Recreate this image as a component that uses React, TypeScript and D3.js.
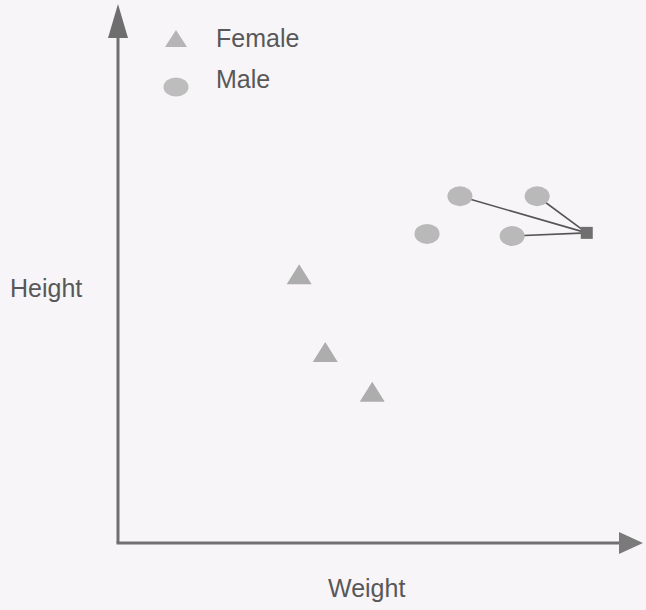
import React from "react";
import * as d3 from "d3";

const femaleX = [34.7, 39.7, 48.7];
const femaleY = [51.4, 36.5, 28.9];
const maleX = [65.5, 80.3, 59.2, 75.5];
const maleY = [66.3, 66.3, 59.1, 58.7];
const queryX = [89.8];
const queryY = [59.3];
const neighbourIdx = [0, 1, 3];
const legendLabels = ["Female", "Male"];
const axisLabels = ["Weight", "Height"];

function triPath(cx: number, cy: number, w: number, h: number) {
  const p = d3.path();
  p.moveTo(cx, cy - h / 2);
  p.lineTo(cx + w / 2, cy + h / 2);
  p.lineTo(cx - w / 2, cy + h / 2);
  p.closePath();
  return p.toString();
}

export default function App() {
  const W = 646, H = 610;
  const x = d3.scaleLinear().domain([0, 100]).range([118, 640]);
  const y = d3.scaleLinear().domain([0, 100]).range([543, 20]);
  const x0 = x(0), y0 = y(0);
  const textColor = "#585858";
  const ff = "'Liberation Sans', Arial, sans-serif";
  const fs = 25;
  return (
    <svg width={W} height={H} style={{ position: "absolute", left: 0, top: 0 }}>
      <rect width={W} height={H} fill="#f7f5f8" />
      {/* axes */}
      <line x1={x0} y1={y0} x2={x0} y2={30} stroke="#707070" strokeWidth={3} />
      <line x1={x0 - 1.5} y1={y0} x2={624} y2={y0} stroke="#707070" strokeWidth={3} />
      <path d={`M${x0},4 L${x0 - 10},38 L${x0 + 10},38 Z`} fill="#6e6e6e" />
      <path d={`M643,${y0} L619,${y0 - 11} L619,${y0 + 11} Z`} fill="#7a7a7a" />
      {/* neighbour lines */}
      {neighbourIdx.map((i) => (
        <line key={i} x1={x(queryX[0])} y1={y(queryY[0])} x2={x(maleX[i])} y2={y(maleY[i])} stroke="#555" strokeWidth={1.6} />
      ))}
      {femaleX.map((v, i) => (
        <path key={"f" + i} d={triPath(x(v), y(femaleY[i]), 25, 20)} fill="#adadad" />
      ))}
      {maleX.map((v, i) => (
        <ellipse key={"m" + i} cx={x(v)} cy={y(maleY[i])} rx={12.5} ry={10} fill="#b9b9b9" />
      ))}
      <rect x={x(queryX[0]) - 6} y={y(queryY[0]) - 6} width={12} height={12} fill="#6f6f6f" />
      {/* legend */}
      <path d={triPath(176, 38.5, 22, 17)} fill="#b5b5b5" />
      <ellipse cx={176} cy={87} rx={12.5} ry={9.5} fill="#bdbdbd" />
      <text x={216} y={47} fontFamily={ff} fontSize={fs} fill={textColor}>{legendLabels[0]}</text>
      <text x={216} y={88} fontFamily={ff} fontSize={fs} fill={textColor}>{legendLabels[1]}</text>
      {/* axis labels */}
      <text x={328} y={597} fontFamily={ff} fontSize={fs} fill={textColor}>{axisLabels[0]}</text>
      <text x={10} y={297} fontFamily={ff} fontSize={fs} fill={textColor}>{axisLabels[1]}</text>
    </svg>
  );
}
